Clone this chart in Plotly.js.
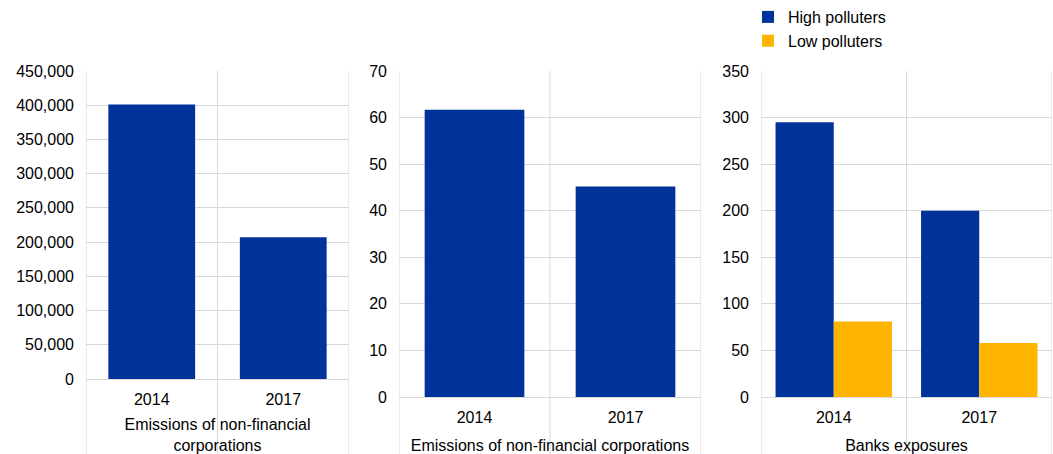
<!DOCTYPE html>
<html>
<head>
<meta charset="utf-8">
<script src="https://cdn.plot.ly/plotly-3.0.1.min.js"></script>
<style>html,body{margin:0;padding:0;background:#fff;}#chart{width:1053px;height:454px;}</style>
</head>
<body>
<div id="chart"></div>
<script>
// ---- data ----
const years = ['2014', '2017'];
const emissionsLevel = [401000, 207000];
const emissionsShare = [61.7, 45.2];
const highPolluters = [295, 200];
const lowPolluters = [81, 58];
const seriesNames = ['High polluters', 'Low polluters'];
const panelTitles = ['Emissions of non-financial<br>corporations', 'Emissions of non-financial corporations', 'Banks exposures'];

// ---- style ----
const BLUE = '#003299', YELLOW = '#FFB400', GRID = '#d9d9d9', TXT = '#000000';
const FONT = 'Liberation Sans, Arial, sans-serif';
const W = 1053, H = 454;
const px = v => v / W, py = v => (H - v) / H;

const traces = [
  {type: 'bar', x: years, y: emissionsLevel, xaxis: 'x', yaxis: 'y', marker: {color: BLUE}, width: 0.66, offset: -0.33, showlegend: false, hoverinfo: 'x+y'},
  {type: 'bar', x: years, y: emissionsShare, xaxis: 'x2', yaxis: 'y2', marker: {color: BLUE}, width: 0.66, offset: -0.33, showlegend: false, hoverinfo: 'x+y'},
  {type: 'bar', x: years, y: highPolluters, xaxis: 'x3', yaxis: 'y3', name: seriesNames[0], marker: {color: BLUE}, width: 0.4, offset: -0.4},
  {type: 'bar', x: years, y: lowPolluters, xaxis: 'x3', yaxis: 'y3', name: seriesNames[1], marker: {color: YELLOW}, width: 0.4, offset: 0}
];

const xBase = {type: 'category', range: [-0.5, 1.5], showgrid: false, zeroline: false, showline: false, ticks: '', tickfont: {size: 16, color: TXT}, ticklabelstandoff: 9, fixedrange: true};
const yBase = {showgrid: true, gridcolor: GRID, gridwidth: 1, zeroline: true, zerolinecolor: GRID, zerolinewidth: 1, showline: false, ticks: '', tickfont: {size: 16, color: TXT}, ticklabelstandoff: 11, fixedrange: true};

const dom = [
  {x: [px(86), px(349)], y: [py(379), py(71)]},
  {x: [px(399), px(701)], y: [py(397), py(71)]},
  {x: [px(761), px(1052)], y: [py(397), py(71)]}
];

const layout = {
  width: W, height: H,
  margin: {l: 0, r: 0, t: 0, b: 0},
  paper_bgcolor: '#fff', plot_bgcolor: 'rgba(0,0,0,0)',
  font: {family: FONT, size: 16, color: TXT},
  barmode: 'overlay',
  showlegend: true,
  legend: {x: px(748), y: 1, xanchor: 'left', yanchor: 'top', font: {size: 16, color: TXT}, bgcolor: 'rgba(0,0,0,0)', tracegroupgap: 0, itemwidth: 30},
  xaxis: Object.assign({}, xBase, {domain: dom[0].x, anchor: 'y', title: {text: panelTitles[0], font: {size: 16, color: TXT}, standoff: 14}}),
  yaxis: Object.assign({}, yBase, {domain: dom[0].y, anchor: 'x', range: [0, 450000], dtick: 50000, tickformat: ',d'}),
  xaxis2: Object.assign({}, xBase, {domain: dom[1].x, anchor: 'y2', title: {text: panelTitles[1], font: {size: 16, color: TXT}, standoff: 14}}),
  yaxis2: Object.assign({}, yBase, {domain: dom[1].y, anchor: 'x2', range: [0, 70], dtick: 10}),
  xaxis3: Object.assign({}, xBase, {domain: dom[2].x, anchor: 'y3', title: {text: panelTitles[2], font: {size: 16, color: TXT}, standoff: 14}}),
  yaxis3: Object.assign({}, yBase, {domain: dom[2].y, anchor: 'x3', range: [0, 350], dtick: 50}),
  shapes: []
};

// category separator lines (left edge, middle, right edge), running down through the label area
[['x', 0], ['x2', 1], ['x3', 2]].forEach(([xr, i]) => {
  [-0.5, 0.5, 1.5].forEach(b => {
    layout.shapes.push({type: 'line', xref: xr, yref: 'paper', x0: b, x1: b, y0: 0, y1: dom[i].y[1], line: {color: GRID, width: 1}, layer: 'below'});
  });
});

Plotly.newPlot('chart', traces, layout, {displayModeBar: false, staticPlot: true});
</script>
</body>
</html>
